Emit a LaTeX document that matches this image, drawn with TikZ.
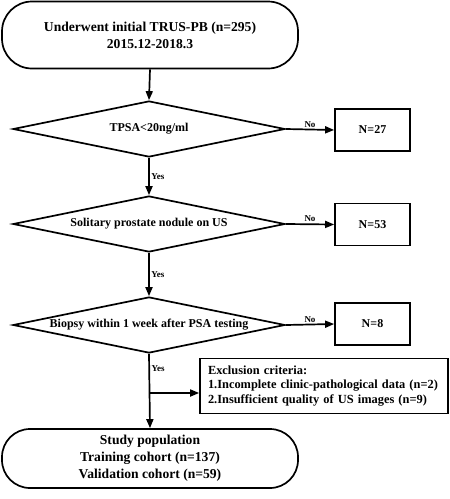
\documentclass[tikz,border=0pt]{standalone}
\usepackage{fontspec}
\setmainfont{Liberation Serif}
\usetikzlibrary{shapes.geometric,arrows.meta}
\begin{document}
\begin{tikzpicture}[x=1pt,y=-1pt, line width=1.7pt,
 term/.style={draw, rounded corners=30pt, minimum width=296pt, minimum height=67pt, align=center, inner sep=0pt, font=\bfseries\fontsize{13.6}{17}\selectfont},
 decision/.style={draw, diamond, shape aspect=4.86, minimum width=272pt, minimum height=56pt, inner sep=0pt, font=\bfseries\fontsize{12}{14}\selectfont},
 outbox/.style={draw, minimum width=75pt, minimum height=42pt, inner sep=0pt, font=\bfseries\fontsize{12}{14}\selectfont},
 exclbox/.style={draw, minimum width=248pt, minimum height=55pt, inner xsep=5pt, text width=238pt, align=left, font=\bfseries\fontsize{12.4}{14.5}\selectfont},
 arr/.style={-{Triangle[length=9pt,width=7pt]}},
 lbl/.style={font=\bfseries\fontsize{9}{10}\selectfont, inner sep=1.5pt}]
\useasboundingbox (0,0) rectangle (450,499);
\node[term] (start) at (150,35) {Underwent initial TRUS-PB (n=295)\\2015.12-2018.3};
\node[decision] (d1) at (149,129) {TPSA<20ng/ml};
\node[outbox] (n1) at (372.5,130) {N=27};
\node[decision] (d2) at (149,224) {Solitary prostate nodule on US};
\node[outbox] (n2) at (372.5,224.5) {N=53};
\node[decision] (d3) at (149,325) {Biopsy within 1 week after PSA testing};
\node[outbox] (n3) at (372.5,324) {N=8};
\node[exclbox] (excl) at (324,386) {\hspace*{3pt}Exclusion criteria:\\\hspace*{3pt}1.Incomplete clinic-pathological data (n=2)\\\hspace*{3pt}2.Insufficient quality of US images (n=9)};
\node[term, minimum height=59pt, rounded corners=28pt] (pop) at (150,458.5) {Study population\\Training cohort (n=137)\\Validation cohort (n=59)};
\coordinate (br) at (150,393);
\draw[arr] (start.south) -- (d1.north);
\draw[arr] (d1.east) -- (n1.west) node[lbl, midway, above] {No};
\draw[arr] (d1.south) -- (d2.north) node[lbl, midway, right] {Yes};
\draw[arr] (d2.east) -- (n2.west) node[lbl, midway, above] {No};
\draw[arr] (d2.south) -- (d3.north) node[lbl, midway, right] {Yes};
\draw[arr] (d3.east) -- (n3.west) node[lbl, midway, above] {No};
\draw[arr] (d3.south) -- (pop.north) node[lbl, pos=0.2, right] {Yes};
\draw[arr] (br) -- (br -| excl.west);
\end{tikzpicture}
\end{document}
